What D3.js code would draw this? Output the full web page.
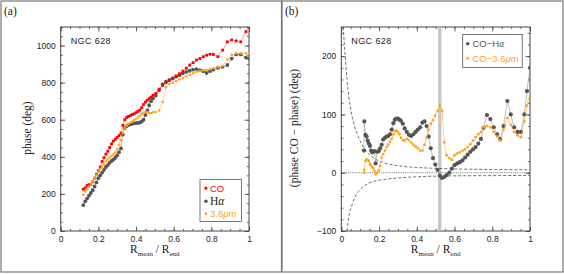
<!DOCTYPE html>
<html>
<head>
<meta charset="utf-8">
<style>
  body { margin: 0; background: #fff; }
  svg { display: block; }
  .tick text { font-family: "Liberation Sans", Arial, sans-serif; font-size: 8.5px; fill: #222; }
  .tick line { stroke: #444; stroke-width: 0.8px; }
  .title { font-family: "Liberation Serif", "DejaVu Serif", serif; font-size: 11.5px; fill: #222; }
  .ngc { font-family: "Liberation Sans", Arial, sans-serif; font-size: 9px; fill: #222; letter-spacing: 0.4px; }
  .leg { font-family: "Liberation Sans", Arial, sans-serif; font-size: 9.5px; }
</style>
</head>
<body>
<svg id="chart" width="564" height="274"></svg>
<script src="https://cdn.jsdelivr.net/npm/d3@7"></script>
<script>
// ---- panel (a): phase vs radius
var rA = [0.12,0.13,0.14,0.15,0.16,0.17,0.18,0.19,0.20,0.21,
          0.22,0.23,0.24,0.25,0.26,0.27,0.28,0.29,0.30,0.31,
          0.32,0.33,0.34,0.35,0.36,0.37,0.38,0.39,0.40,0.41,
          0.42,0.43,0.44,0.45,0.46,0.47,0.48,0.49,
          0.505,0.523,0.541,0.559,0.577,0.595,0.613,0.631,0.649,0.667,0.685,0.703,0.721,0.739,0.757,0.775,0.793,0.811,
          0.835,0.86,0.885,0.908,0.932,0.956,0.984,1.0];
var phaseCO = [225,232,245,250,252,265,285,305,325,345,
               375,395,415,430,450,470,485,495,505,515,
               528,570,600,612,618,622,628,632,638,645,
               652,665,682,695,705,714,722,732,
               742,765,785,800,812,825,836,848,862,878,895,908,922,930,940,948,953,952,
               940,975,1020,1030,1025,1020,1075,1100];
var phaseHa = [140,160,175,190,205,220,240,262,285,300,
               315,330,345,355,368,378,385,395,408,425,
               445,520,555,565,572,575,578,580,582,583,
               585,590,600,625,650,678,700,715,
               730,760,790,805,815,822,832,840,850,858,864,870,873,868,862,852,862,870,
               880,885,895,930,952,952,935,930];
var phase36 = [195,215,225,240,255,265,285,300,320,335,
               345,360,375,385,395,405,412,425,440,465,
               490,530,555,568,578,585,590,598,605,612,
               620,630,637,640,640,636,636,640,
               642,650,695,775,792,800,808,818,826,834,842,850,858,862,866,868,872,878,
               885,890,925,950,958,958,958,955];

// ---- panel (b): phase differences
var rB = [0.120,0.122,0.128,0.134,0.140,0.146,0.152,0.158,0.164,0.170,
          0.176,0.182,0.190,0.198,0.206,0.214,0.222,0.231,0.240,0.249,
          0.258,0.267,0.276,0.284,0.292,0.300,0.308,0.316,0.326,0.336,
          0.347,0.358,0.370,0.382,0.394,0.406,0.418,0.430,0.441,0.452,
          0.463,0.474,0.486,0.498,0.510,0.522,0.534,0.546,0.558,0.572,
          0.586,0.600,0.614,0.628,0.642,0.656,0.670,0.684,0.698,0.712,
          0.726,0.740,0.754,0.772,0.790,0.808,0.826,0.842,0.860,0.880,
          0.898,0.916,0.934,0.952,0.970,0.984,1.000];
var diffHa = [38,88,65,62,55,50,46,38,35,36,
              37,16,36,37,42,48,57,60,62,63,
              66,74,85,91,93,93,91,89,84,76,
              70,65,63,66,70,74,78,86,88,80,
              62,42,25,14,5,-5,-9,-7,-4,0,
              7,13,16,18,21,26,31,36,40,44,
              50,58,77,99,92,78,66,58,80,123,
              100,78,70,70,100,140,180];
var diff36 = [0,5,20,23,22,20,15,12,10,8,
              3,-3,0,4,12,26,32,38,44,48,
              53,58,66,71,72,70,66,60,56,55,
              58,56,52,48,45,42,38,38,48,60,
              74,84,90,98,106,115,106,52,30,25,
              22,30,33,35,38,40,44,49,55,61,
              66,70,78,80,78,70,62,55,74,94,
              82,70,64,61,88,115,138];

// error envelopes (dashed) and marked radius
var envR = [0.011,0.015,0.021,0.03,0.04,0.055,0.07,0.09,0.11,0.13,0.16,0.2,0.25,0.3,0.4,0.5,0.6,0.8,1.0];
var envUp = [250,225,200,160,130,100,80,62,48,38,28,20,15,12,9,7.5,6.5,5.5,5];
var envLoR = [0.03,0.04,0.057,0.075,0.092,0.12,0.145,0.2,0.27,0.4,0.57,0.8,1.0];
var envLo = [-100,-75,-55,-40,-32,-23,-18,-13,-10,-7,-5.5,-5,-4.5];
var bandR = 0.522;

var svg = d3.select('#chart');

// frames
svg.append('rect').attr('x', 1).attr('y', 1).attr('width', 280.5).attr('height', 271)
  .attr('fill', 'none').attr('stroke', '#777').attr('stroke-width', 1.2);
svg.append('rect').attr('x', 282).attr('y', 1).attr('width', 281).attr('height', 271)
  .attr('fill', 'none').attr('stroke', '#777').attr('stroke-width', 1.2);

var xFmt = function(d) { return d === 0 || d === 1 ? String(d) : d3.format('.1f')(d); };
var yFmt = function(d) { return d < 0 ? '\u2212' + Math.abs(d) : String(d); };

function makePanel(left, right, yDomain, yMajor, yMinor, id) {
  var x = d3.scaleLinear().domain([0, 1]).range([left, right]);
  var y = d3.scaleLinear().domain(yDomain).range([231, 27]);
  var top = 27, bot = 231;
  var xMaj = [0, 0.2, 0.4, 0.6, 0.8, 1];
  var xMin = d3.range(0, 1.0001, 0.05);
  var yMaj = d3.range(yDomain[0], yDomain[1] + 0.1, yMajor);
  var yMin = d3.range(yDomain[0], yDomain[1] + 0.1, yMinor);

  svg.append('defs').append('clipPath').attr('id', id)
    .append('rect').attr('x', left).attr('y', top).attr('width', right - left).attr('height', bot - top);

  function ax(gen, tx, ty, vals, size, fmt) {
    var a = gen.tickValues(vals).tickSize(size).tickPadding(5).tickFormat(fmt || function() { return ''; });
    var g = svg.append('g').attr('transform', 'translate(' + tx + ',' + ty + ')').call(a);
    g.select('.domain').remove();
    return g;
  }
  ax(d3.axisBottom(x), 0, bot, xMaj, -4.5, xFmt);
  ax(d3.axisBottom(x), 0, bot, xMin, -2.2);
  ax(d3.axisTop(x), 0, top, xMaj, -4.5);
  ax(d3.axisTop(x), 0, top, xMin, -2.2);
  ax(d3.axisLeft(y), left, 0, yMaj, -4.5, yFmt);
  ax(d3.axisLeft(y), left, 0, yMin, -2.2);
  ax(d3.axisRight(y), right, 0, yMaj, -4.5);
  ax(d3.axisRight(y), right, 0, yMin, -2.2);

  svg.append('rect').attr('x', left).attr('y', top).attr('width', right - left).attr('height', bot - top)
    .attr('fill', 'none').attr('stroke', '#444').attr('stroke-width', 1);

  // x title with subscripts
  var t = svg.append('text').attr('class', 'title').attr('x', (left + right) / 2).attr('y', 253)
    .attr('text-anchor', 'middle');
  t.append('tspan').text('R');
  t.append('tspan').attr('font-size', '7px').attr('dy', 2.5).text('mean');
  t.append('tspan').attr('dy', -2.5).text('  /  R');
  t.append('tspan').attr('font-size', '7px').attr('dy', 2.5).text('end');

  svg.append('text').attr('class', 'ngc').attr('x', left + 10).attr('y', 44).text('NGC 628');
  return { x: x, y: y, left: left };
}

function series(g, P, xs, ys, color, lineW, shape, size) {
  var pts = xs.map(function(r, i) { return [r, ys[i]]; });
  var line = d3.line().x(function(d) { return P.x(d[0]); }).y(function(d) { return P.y(d[1]); });
  g.append('path').datum(pts).attr('d', line).attr('fill', 'none')
    .attr('stroke', color).attr('stroke-width', lineW).attr('stroke-opacity', 0.8);
  if (shape === 'square') {
    g.selectAll(null).data(pts).enter().append('rect')
      .attr('x', function(d) { return P.x(d[0]) - size; })
      .attr('y', function(d) { return P.y(d[1]) - size; })
      .attr('width', size * 2).attr('height', size * 2).attr('fill', color);
  } else if (shape === 'circle') {
    g.selectAll(null).data(pts).enter().append('circle')
      .attr('cx', function(d) { return P.x(d[0]); })
      .attr('cy', function(d) { return P.y(d[1]); })
      .attr('r', size).attr('fill', color);
  }
}

// ---- panel (a)
var A = makePanel(60.7, 249, [0, 1100], 200, 50, 'clipA');
svg.append('text').attr('class', 'title').attr('x', 4).attr('y', 15).attr('font-size', '13px').text('(a)');
svg.append('text').attr('class', 'title')
  .attr('transform', 'translate(31,128) rotate(-90)').attr('text-anchor', 'middle').text('phase (deg)');

var gA = svg.append('g').attr('clip-path', 'url(#clipA)');
series(gA, A, rA, phaseHa, '#555555', 0.5, 'circle', 1.9);
series(gA, A, rA, phaseCO, '#ff0000', 0.5, 'square', 1.4);
series(gA, A, rA, phase36, '#ffa520', 0.6, 'circle', 1.3);

// legend (a)
svg.append('rect').attr('x', 200).attr('y', 179.5).attr('width', 41.5).attr('height', 42)
  .attr('fill', '#fff').attr('stroke', '#555').attr('stroke-width', 0.8);
svg.append('rect').attr('x', 204.5).attr('y', 186.8).attr('width', 2.8).attr('height', 2.8).attr('fill', '#ff0000');
svg.append('text').attr('class', 'leg').attr('x', 210).attr('y', 191.5).attr('fill', '#ff0000').text('CO');
svg.append('circle').attr('cx', 205.9).attr('cy', 201.3).attr('r', 1.8).attr('fill', '#555');
svg.append('text').attr('class', 'title').attr('x', 210).attr('y', 204.8).attr('font-size', '10px')
  .attr('fill', '#555').html('H<tspan font-style="italic">α</tspan>');
svg.append('circle').attr('cx', 205.9).attr('cy', 213.7).attr('r', 1.4).attr('fill', '#ffa520');
svg.append('text').attr('class', 'leg').attr('x', 210).attr('y', 217.2).attr('fill', '#ffa520')
  .html('3.6<tspan font-style="italic">μ</tspan>m');

// ---- panel (b)
var B = makePanel(341.3, 530, [-100, 250], 100, 20, 'clipB');
svg.append('text').attr('class', 'title').attr('x', 285).attr('y', 15).attr('font-size', '13px').text('(b)');
svg.append('text').attr('class', 'title')
  .attr('transform', 'translate(298,128) rotate(-90)').attr('text-anchor', 'middle')
  .text('(phase CO \u2212 phase) (deg)');

var gB = svg.append('g').attr('clip-path', 'url(#clipB)');
gB.append('rect').attr('x', B.x(bandR) - 1.6).attr('y', 27).attr('width', 3.2).attr('height', 204)
  .attr('fill', '#c4c4c4');
gB.append('line').attr('x1', B.x(0)).attr('x2', B.x(1)).attr('y1', B.y(0)).attr('y2', B.y(0))
  .attr('stroke', '#333').attr('stroke-width', 0.7).attr('stroke-dasharray', '1,1.2');
var envLine = d3.line().curve(d3.curveMonotoneX)
  .x(function(d) { return B.x(d[0]); }).y(function(d) { return B.y(d[1]); });
gB.append('path').datum(envR.map(function(r, i) { return [r, envUp[i]]; })).attr('d', envLine)
  .attr('fill', 'none').attr('stroke', '#333').attr('stroke-width', 0.7).attr('stroke-dasharray', '3,2');
gB.append('path').datum(envLoR.map(function(r, i) { return [r, envLo[i]]; })).attr('d', envLine)
  .attr('fill', 'none').attr('stroke', '#333').attr('stroke-width', 0.7).attr('stroke-dasharray', '3,2');

// CO-Halpha: light grey connecting line, dark grey dots
series(gB, B, rB, diffHa, '#8a8a8a', 0.7, 'none', 0);
gB.selectAll(null).data(rB).enter().append('circle')
  .attr('cx', function(d) { return B.x(d); })
  .attr('cy', function(d, i) { return B.y(diffHa[i]); })
  .attr('r', 2.1).attr('fill', '#555');
series(gB, B, rB, diff36, '#ffa520', 0.7, 'circle', 1.4);

// legend (b)
svg.append('rect').attr('x', 462.7).attr('y', 34.5).attr('width', 59.5).attr('height', 33)
  .attr('fill', '#fff').attr('stroke', '#555').attr('stroke-width', 0.8);
svg.append('circle').attr('cx', 467.7).attr('cy', 43.7).attr('r', 1.8).attr('fill', '#555');
svg.append('text').attr('class', 'leg').attr('x', 472.5).attr('y', 47.2).attr('fill', '#555')
  .html('CO\u2212H<tspan font-style="italic" font-family="Liberation Serif">α</tspan>');
svg.append('circle').attr('cx', 467.7).attr('cy', 58.3).attr('r', 1.4).attr('fill', '#ffa520');
svg.append('text').attr('class', 'leg').attr('x', 472.5).attr('y', 61.8).attr('fill', '#ffa520')
  .html('CO\u22123.6<tspan font-style="italic">μ</tspan>m');
</script>
</body>
</html>
